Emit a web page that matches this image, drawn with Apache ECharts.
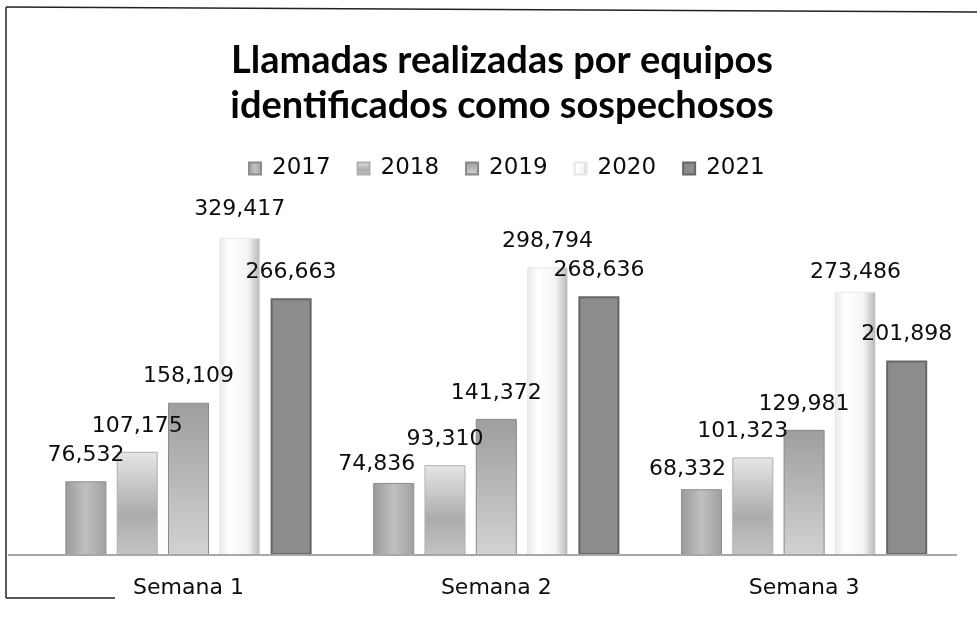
<!DOCTYPE html>
<html>
<head>
<meta charset="utf-8">
<script src="https://cdn.jsdelivr.net/npm/echarts@6/dist/echarts.min.js"></script>
<style>html,body{margin:0;padding:0;background:#fff;}#c{width:977px;height:624px;}</style>
</head>
<body>
<div id="c"></div>
<script>
const titleText = 'Llamadas realizadas por equipos\nidentificados como sospechosos';
const categories = ['Semana 1', 'Semana 2', 'Semana 3'];
const years = ['2017', '2018', '2019', '2020', '2021'];
const v2017 = [76532, 74836, 68332];
const v2018 = [107175, 93310, 101323];
const v2019 = [158109, 141372, 129981];
const v2020 = [329417, 298794, 273486];
const v2021 = [266663, 268636, 201898];
const seriesValues = [v2017, v2018, v2019, v2020, v2021];

// styling (kept apart from data)
const G = echarts.graphic.LinearGradient;
const fills = [
  new G(0, 0, 1, 0, [{offset:0,color:'#9a9a9a'},{offset:0.5,color:'#c0c0c0'},{offset:1,color:'#a0a0a0'}]),
  new G(0, 0, 0, 1, [{offset:0,color:'#e6e6e6'},{offset:0.6,color:'#acacac'},{offset:1,color:'#c4c4c4'}]),
  new G(0, 0, 0, 1, [{offset:0,color:'#9e9e9e'},{offset:1,color:'#d2d2d2'}]),
  new G(0, 0, 1, 0, [{offset:0,color:'#e8e8e8'},{offset:0.25,color:'#ffffff'},{offset:0.7,color:'#f4f4f4'},{offset:1,color:'#b4b4b4'}]),
  '#8c8c8c'
];
const borders = ['#8c8c8c', '#b0b0b0', '#888888', '#e8e8e8', '#666666'];
const labelNudge = {'0-1':[-17,7], '0-2':[-14,6], '1-2':[-10,0], '3-2':[0,7], '3-0':[0,-3]};

const fmt = v => Number(v).toLocaleString('en-US');

const series = years.map((y, si) => ({
  name: y,
  type: 'bar',
  barGap: '25%',
  barCategoryGap: '20%',
  itemStyle: { color: fills[si], borderColor: borders[si], borderWidth: si === 4 ? 2 : 1 },
  label: {
    show: true, position: 'top', distance: 15,
    fontFamily: 'DejaVu Sans', fontSize: 22, color: '#0d0d0d',
    formatter: p => fmt(p.value)
  },
  data: seriesValues[si].map((v, ci) => {
    const n = labelNudge[si + '-' + ci];
    return n ? { value: v, label: { offset: n } } : v;
  })
}));

const chart = echarts.init(document.getElementById('c'));
chart.setOption({
  backgroundColor: '#ffffff',
  animation: false,
  title: {
    text: titleText,
    left: 502, top: 38, padding: 0,
    textAlign: 'center',
    textStyle: { fontFamily: 'Lato', fontWeight: 'bold', fontSize: 38, lineHeight: 45, color: '#050505' }
  },
  legend: {
    data: years,
    left: 243, top: 152,
    icon: 'rect',
    itemWidth: 12, itemHeight: 12, itemGap: 26,
    textStyle: { fontFamily: 'DejaVu Sans', fontSize: 23, color: '#0d0d0d', padding: [0, 0, 0, 6] }
  },
  grid: { left: 34.6, right: 19, top: 218, bottom: 69, containLabel: false },
  xAxis: {
    type: 'category', data: categories,
    axisLine: { show: false }, axisTick: { show: false },
    axisLabel: { margin: 22, fontFamily: 'DejaVu Sans', fontSize: 22, color: '#0d0d0d' }
  },
  yAxis: { type: 'value', min: 0, max: 350000, show: false, splitLine: { show: false } },
  series: series,
  graphic: [
    { type: 'line', shape: { x1: 8, y1: 555, x2: 957, y2: 555 }, style: { stroke: '#a8a8a8', lineWidth: 2 }, z: 10 },
    { type: 'line', shape: { x1: 6, y1: 7, x2: 977, y2: 12 }, style: { stroke: '#222', lineWidth: 1.5 } },
    { type: 'line', shape: { x1: 6, y1: 7, x2: 6, y2: 598 }, style: { stroke: '#222', lineWidth: 1.5 } },
    { type: 'line', shape: { x1: 6, y1: 598, x2: 115, y2: 598 }, style: { stroke: '#222', lineWidth: 1.5 } }
  ]
});
</script>
</body>
</html>
